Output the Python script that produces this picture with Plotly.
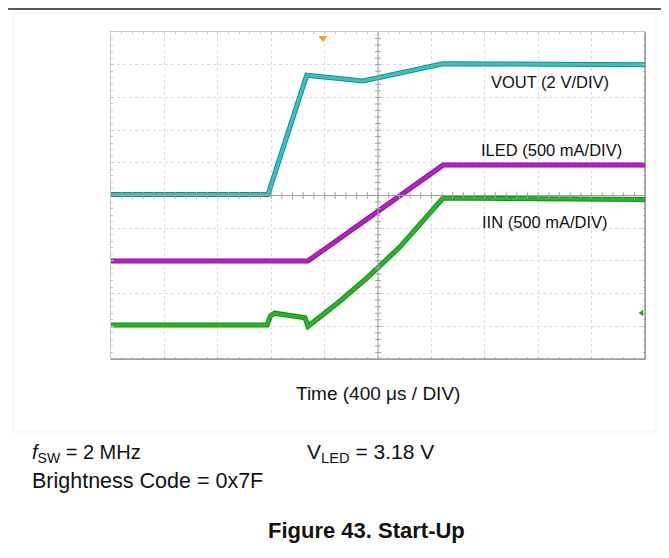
import plotly.graph_objects as go

# Time axis in microseconds (400 us / DIV, 10 divisions); signal values in scope divisions (0..10)
t_vout = [0, 1176, 1466, 1888, 2487, 4000]
vout = [5.03, 5.03, 8.68, 8.50, 9.03, 9.00]

t_iled = [0, 1476, 2487, 4000]
iled = [3.00, 3.00, 5.93, 5.93]

t_iin = [0, 1169, 1195, 1225, 1453, 1476, 1700, 1918, 2165, 2487, 4000]
iin = [1.04, 1.04, 1.32, 1.40, 1.26, 1.00, 1.72, 2.48, 3.43, 4.92, 4.88]

trig_t = [1588]
trig_y = [9.82]
gnd_t = [3975]
gnd_y = [1.41]

labels = ["VOUT (2 V/DIV)", "ILED (500 mA/DIV)", "IIN (500 mA/DIV)"]
label_t = [3288, 3296, 3251]
label_y = [8.47, 6.39, 4.19]

FONT = "Liberation Sans, Arial, sans-serif"

fig = go.Figure()

def add_trace(t, y, col, dark):
    fig.add_trace(go.Scatter(x=t, y=y, mode="lines", line=dict(color=dark, width=5),
                             hoverinfo="skip", showlegend=False))
    fig.add_trace(go.Scatter(x=t, y=y, mode="lines", line=dict(color=col, width=3),
                             showlegend=False))

add_trace(t_vout, vout, "#30c4c4", "#1f8a8c")
add_trace(t_iled, iled, "#b81ecc", "#8a1496")
add_trace(t_iin, iin, "#26b826", "#158a15")

fig.add_trace(go.Scatter(x=trig_t, y=trig_y, mode="markers",
                         marker=dict(symbol="triangle-down", size=8, color="#f0a818"),
                         showlegend=False))
fig.add_trace(go.Scatter(x=gnd_t, y=gnd_y, mode="markers",
                         marker=dict(symbol="triangle-left", size=6, color="#22a022"),
                         showlegend=False))

shapes = []
# center crosshair
shapes.append(dict(type="line", xref="x", yref="y", x0=2000, x1=2000, y0=0, y1=10,
                   line=dict(color="#a0a0a0", width=1)))
shapes.append(dict(type="line", xref="x", yref="y", x0=0, x1=4000, y0=5, y1=5,
                   line=dict(color="#a0a0a0", width=1)))
for i in range(1, 50):
    yy = i * 0.2
    shapes.append(dict(type="line", xref="x", yref="y", x0=1978, x1=2022, y0=yy, y1=yy,
                       line=dict(color="#a0a0a0", width=1)))
    xx = i * 80
    shapes.append(dict(type="line", xref="x", yref="y", x0=xx, x1=xx, y0=4.9, y1=5.1,
                       line=dict(color="#a0a0a0", width=1)))
# right and bottom borders
shapes.append(dict(type="line", xref="paper", yref="paper", x0=1, x1=1, y0=0, y1=1,
                   line=dict(color="#707070", width=1)))
shapes.append(dict(type="line", xref="paper", yref="paper", x0=0, x1=1, y0=0, y1=0,
                   line=dict(color="#707070", width=1)))
# faint outer box
shapes.append(dict(type="rect", xref="paper", yref="paper", x0=-0.1835, x1=1.0206,
                   y0=-0.2232, y1=1.058, line=dict(color="#f2f2f2", width=1)))
# top rule
shapes.append(dict(type="line", xref="paper", yref="paper", x0=-0.25, x1=1.1,
                   y0=1.0703, y1=1.0703, line=dict(color="#222222", width=1.5)))

annotations = []
for txt, tx, ty in zip(labels, label_t, label_y):
    annotations.append(dict(x=tx, y=ty, xref="x", yref="y", text=txt, showarrow=False,
                            xanchor="center", yanchor="middle",
                            font=dict(family=FONT, size=16.5, color="#111111")))

annotations += [
    dict(x=0.5, y=-0.107, xref="paper", yref="paper", text="Time (400 μs / DIV)",
         xanchor="center", yanchor="middle",
         showarrow=False, font=dict(family=FONT, size=19, color="#111111")),
    dict(x=-0.1517, y=-0.2875, xref="paper", yref="paper", xanchor="left", yanchor="middle",
         text="<i>f</i><sub>SW</sub> = 2 MHz", showarrow=False,
         font=dict(family=FONT, size=20, color="#111111")),
    dict(x=0.3633, y=-0.2875, xref="paper", yref="paper", xanchor="left", yanchor="middle",
         text="V<sub>LED</sub> = 3.18 V", showarrow=False,
         font=dict(family=FONT, size=21, color="#111111")),
    dict(x=-0.1517, y=-0.373, xref="paper", yref="paper", xanchor="left", yanchor="middle",
         text="Brightness Code = 0x7F", showarrow=False,
         font=dict(family=FONT, size=21.5, color="#111111")),
    dict(x=0.479, y=-0.523, xref="paper", yref="paper", xanchor="center", yanchor="middle",
         text="<b>Figure 43. Start-Up</b>", showarrow=False,
         font=dict(family=FONT, size=22, color="#111111")),
]

axis_common = dict(showticklabels=False, showgrid=True, gridcolor="#dcdcdc",
                   griddash="dot", gridwidth=1, zeroline=False, showline=True,
                   linecolor="#c8c8c8", mirror="ticks", ticks="inside", ticklen=3,
                   tickcolor="#c8c8c8")

fig.update_layout(
    width=661, height=550, autosize=False,
    margin=dict(l=103, r=24, t=24, b=199),
    plot_bgcolor="white", paper_bgcolor="white",
    xaxis=dict(range=[0, 4000], dtick=400, tick0=0,
               minor=dict(dtick=80, ticks="inside", ticklen=2, tickcolor="#c8c8c8"),
               **axis_common),
    yaxis=dict(range=[0, 10], dtick=1, tick0=0,
               minor=dict(dtick=0.2, ticks="inside", ticklen=2, tickcolor="#c8c8c8"),
               **axis_common),
    shapes=shapes, annotations=annotations, showlegend=False,
)

fig.write_html("out.html")
